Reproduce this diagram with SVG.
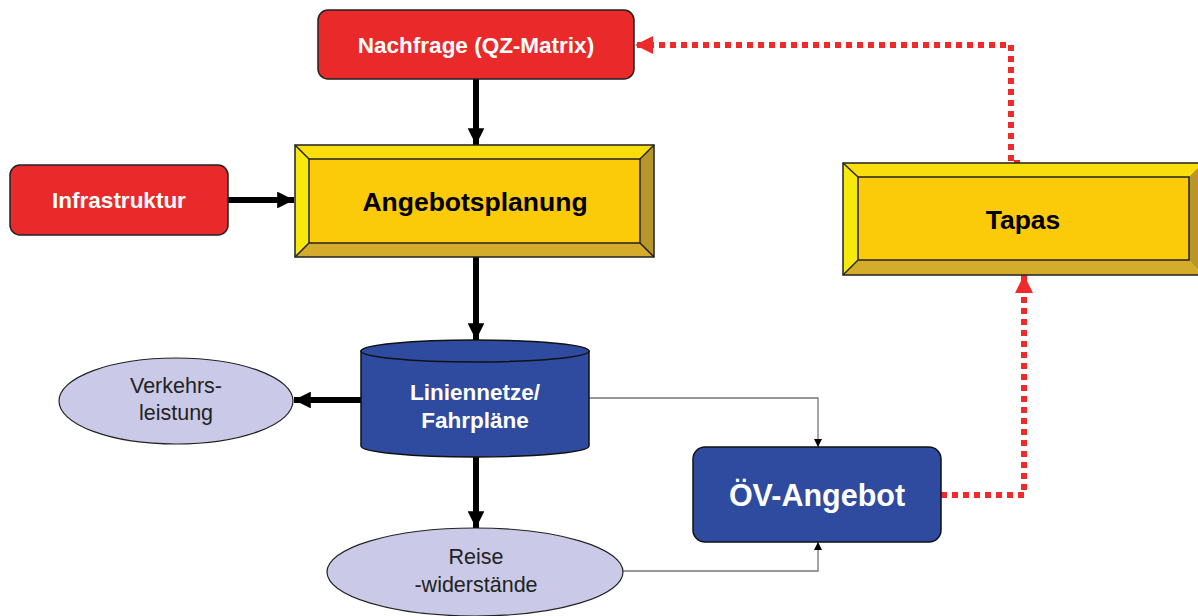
<svg xmlns="http://www.w3.org/2000/svg" width="1198" height="616" viewBox="0 0 1198 616">
<defs>
<style>
.red{fill:#EA2A2A;stroke:#222;stroke-width:1.5}
.blue{fill:#2E4BA0;stroke:#111;stroke-width:1.5}
.ell{fill:#CACAE8;stroke:#222;stroke-width:1.2}
.bw{font-family:"Liberation Sans",Arial,sans-serif;font-weight:bold;fill:#fff;text-anchor:middle}
.bk{font-family:"Liberation Sans",Arial,sans-serif;font-weight:bold;fill:#000;text-anchor:middle}
.rg{font-family:"Liberation Sans",Arial,sans-serif;fill:#222;text-anchor:middle;font-size:21.5px}
.thick{stroke:#000;stroke-width:6;fill:none}
.thin{stroke:#777;stroke-width:1.3;fill:none}
.dot{stroke:#EE2A2A;stroke-width:6;fill:none;stroke-dasharray:6 5}
.bvc{fill:#FBCB0A}
.bvt{fill:#F9DD0C}
.bvl{fill:#F7EA0A}
.bvr{fill:#B8962C}
.bvb{fill:#D4AB2A}
.edge{fill:none;stroke:#222;stroke-width:1.5}
</style>
<marker id="ah" viewBox="0 0 10 10" refX="10" refY="5" markerWidth="2.8" markerHeight="2.8" orient="auto"><path d="M0,0 L10,5 L0,10 Z" fill="#000"/></marker>
<marker id="as" viewBox="0 0 10 10" refX="10" refY="5" markerWidth="8" markerHeight="8" orient="auto" markerUnits="userSpaceOnUse"><path d="M0,0 L10,5 L0,10 Z" fill="#000"/></marker>
<marker id="ar" viewBox="0 0 10 10" refX="10" refY="5" markerWidth="3" markerHeight="3" orient="auto"><path d="M0,0 L10,5 L0,10 Z" fill="#EE2A2A"/></marker>
</defs>

<g id="connectors">
<line class="thick" x1="476" y1="79" x2="476" y2="145" marker-end="url(#ah)"/>
<line class="thick" x1="228" y1="200" x2="294" y2="200" marker-end="url(#ah)"/>
<line class="thick" x1="476" y1="257" x2="476" y2="340" marker-end="url(#ah)"/>
<line class="thick" x1="361" y1="400" x2="294" y2="400" marker-end="url(#ah)"/>
<line class="thick" x1="476" y1="457" x2="476" y2="528" marker-end="url(#ah)"/>
<polyline class="thin" points="589,398 818,398 818,447" marker-end="url(#as)"/>
<polyline class="thin" points="623,571 818,571 818,542" marker-end="url(#as)"/>
<polyline class="dot" points="941,495 1024,495 1024,275" marker-end="url(#ar)"/>
<polyline class="dot" points="1020,163 1011,163 1011,45 635,45" marker-end="url(#ar)"/>
</g>

<g id="nachfrage">
<rect class="red" x="318" y="10" width="316" height="69" rx="10"/>
<text class="bw" x="476" y="53" font-size="22.5">Nachfrage (QZ-Matrix)</text>
</g>

<g id="infrastruktur">
<rect class="red" x="10" y="165" width="218" height="70" rx="10"/>
<text class="bw" x="119" y="208" font-size="22.5">Infrastruktur</text>
</g>

<g id="angebotsplanung">
<rect class="bvc" x="295" y="145" width="359" height="112"/>
<polygon class="bvt" points="295,145 654,145 640,159 309,159"/>
<polygon class="bvl" points="295,145 309,159 309,243 295,257"/>
<polygon class="bvr" points="654,145 654,257 640,243 640,159"/>
<polygon class="bvb" points="295,257 309,243 640,243 654,257"/>
<rect class="edge" x="295" y="145" width="359" height="112"/>
<rect class="edge" x="309" y="159" width="331" height="84" stroke-width="1.2"/>
<line class="edge" x1="295" y1="145" x2="309" y2="159" stroke-width="1.2"/>
<line class="edge" x1="654" y1="145" x2="640" y2="159" stroke-width="1.2"/>
<line class="edge" x1="295" y1="257" x2="309" y2="243" stroke-width="1.2"/>
<line class="edge" x1="654" y1="257" x2="640" y2="243" stroke-width="1.2"/>
<text class="bk" x="475" y="211" font-size="26.5">Angebotsplanung</text>
</g>

<g id="tapas">
<rect class="bvc" x="843" y="163" width="360" height="112"/>
<polygon class="bvt" points="843,163 1203,163 1189,177 858,177"/>
<polygon class="bvl" points="843,163 858,177 858,260 843,275"/>
<polygon class="bvr" points="1203,163 1203,275 1189,260 1189,177"/>
<polygon class="bvb" points="843,275 858,260 1189,260 1203,275"/>
<rect class="edge" x="843" y="163" width="360" height="112"/>
<rect class="edge" x="858" y="177" width="331" height="83" stroke-width="1.2"/>
<line class="edge" x1="843" y1="163" x2="858" y2="177" stroke-width="1.2"/>
<line class="edge" x1="843" y1="275" x2="858" y2="260" stroke-width="1.2"/>
<text class="bk" x="1023" y="229" font-size="26.5">Tapas</text>
</g>

<g id="liniennetze">
<path class="blue" d="M361,351 L361,446 A114,11 0 0 0 589,446 L589,351 Z"/>
<ellipse class="blue" cx="475" cy="351" rx="114" ry="11"/>
<text class="bw" x="475" y="400" font-size="22.5">Liniennetze/</text>
<text class="bw" x="475" y="428" font-size="22.5">Fahrpläne</text>
</g>

<g id="verkehrsleistung">
<ellipse class="ell" cx="176" cy="401" rx="117" ry="43"/>
<text class="rg" x="176" y="393">Verkehrs-</text>
<text class="rg" x="176" y="420">leistung</text>
</g>

<g id="reisewiderstaende">
<ellipse class="ell" cx="475" cy="572" rx="148" ry="44"/>
<text class="rg" x="476" y="564">Reise</text>
<text class="rg" x="476" y="592">-widerstände</text>
</g>

<g id="oev-angebot">
<rect class="blue" x="693" y="447" width="248" height="95" rx="12"/>
<text class="bw" x="817" y="506" font-size="30.5">ÖV-Angebot</text>
</g>
</svg>
